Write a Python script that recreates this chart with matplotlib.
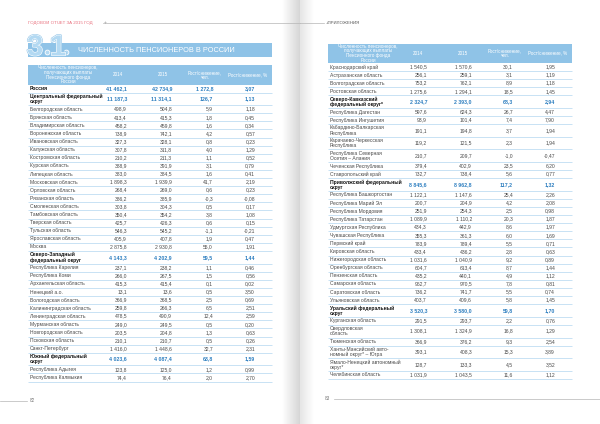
import matplotlib.pyplot as plt
import matplotlib.patheffects as pe
import numpy as np

plt.rcParams['font.family'] = ['Liberation Sans', 'DejaVu Sans']

# ---- data, page 82 ----
names_82 = ['Россия', 'Центральный федеральный\nокруг', 'Белгородская область', 'Брянская область',
            'Владимирская область', 'Воронежская область', 'Ивановская область', 'Калужская область',
            'Костромская область', 'Курская область', 'Липецкая область', 'Московская область',
            'Орловская область', 'Рязанская область', 'Смоленская область', 'Тамбовская область',
            'Тверская область', 'Тульская область', 'Ярославская область', 'Москва',
            'Северо-Западный\nфедеральный округ', 'Республика Карелия', 'Республика Коми',
            'Архангельская область', 'Ненецкий а.о.', 'Вологодская область', 'Калининградская область',
            'Ленинградская область', 'Мурманская область', 'Новгородская область', 'Псковская область',
            'Санкт-Петербург', 'Южный федеральный\nокруг', 'Республика Адыгея', 'Республика Калмыкия']
v2014_82 = ['41 462,1', '11 187,3', '498,9', '413,4', '458,2', '738,9', '327,3', '307,8', '210,2',
            '388,9', '383,0', '1 898,3', '268,4', '386,2', '303,8', '350,4', '425,7', '546,3', '405,9',
            '2 875,8', '4 143,3', '237,1', '266,0', '415,3', '13,1', '366,9', '259,8', '478,5', '249,0',
            '203,5', '210,1', '1 416,0', '4 023,6', '123,8', '74,4']
v2015_82 = ['42 734,9', '11 314,1', '504,8', '415,3', '459,8', '742,1', '328,1', '311,8', '211,3',
            '391,9', '384,5', '1 939,9', '269,0', '385,9', '304,3', '354,2', '426,3', '545,2', '407,8',
            '2 930,8', '4 202,9', '238,2', '267,5', '415,4', '13,6', '368,5', '266,3', '490,9', '249,5',
            '204,8', '210,7', '1 448,6', '4 087,4', '125,0', '76,4']
diff_82 = ['1 272,8', '126,7', '5,9', '1,8', '1,6', '4,2', '0,8', '4,0', '1,1', '3,1', '1,6', '41,7',
           '0,6', '-0,3', '0,5', '3,8', '0,6', '-1,1', '1,9', '55,0', '59,5', '1,1', '1,5', '0,1', '0,5',
           '2,5', '6,5', '12,4', '0,5', '1,3', '0,5', '32,7', '63,8', '1,2', '2,0']
pct_82 = ['3,07', '1,13', '1,18', '0,45', '0,34', '0,57', '0,23', '1,29', '0,52', '0,79', '0,41', '2,19',
          '0,23', '-0,08', '0,17', '1,08', '0,15', '-0,21', '0,47', '1,91', '1,44', '0,46', '0,56', '0,02',
          '3,50', '0,69', '2,51', '2,59', '0,20', '0,63', '0,26', '2,31', '1,59', '0,99', '2,70']

# ---- data, page 83 ----
names_83 = ['Краснодарский край', 'Астраханская область', 'Волгоградская область', 'Ростовская область',
            'Северо-Кавказский\nфедеральный округ*', 'Республика Дагестан', 'Республика Ингушетия',
            'Кабардино-Балкарская\nРеспублика', 'Карачаево-Черкесская\nРеспублика',
            'Республика Северная\nОсетия – Алания', 'Чеченская Республика', 'Ставропольский край',
            'Приволжский федеральный\nокруг', 'Республика Башкортостан', 'Республика Марий Эл',
            'Республика Мордовия', 'Республика Татарстан', 'Удмуртская Республика', 'Чувашская Республика',
            'Пермский край', 'Кировская область', 'Нижегородская область', 'Оренбургская область',
            'Пензенская область', 'Самарская область', 'Саратовская область', 'Ульяновская область',
            'Уральский федеральный\nокруг', 'Курганская область', 'Свердловская\nобласть',
            'Тюменская область', 'Ханты-Мансийский авто-\nномный округ* – Югра',
            'Ямало-Ненецкий автономный\nокруг*', 'Челябинская область']
v2014_83 = ['1 540,5', '256,1', '753,2', '1 275,6', '2 324,7', '597,6', '93,9', '191,1', '119,2', '210,7',
            '379,4', '732,7', '8 845,6', '1 122,1', '200,7', '251,9', '1 089,9', '434,3', '355,3', '783,9',
            '433,4', '1 031,6', '604,7', '435,2', '962,7', '736,2', '403,7', '3 520,3', '291,5', '1 308,1',
            '366,9', '393,1', '128,7', '1 031,9']
v2015_83 = ['1 570,6', '259,1', '762,1', '1 294,1', '2 393,0', '624,3', '101,4', '194,8', '121,5', '209,7',
            '402,9', '738,4', '8 962,8', '1 147,6', '204,9', '254,3', '1 110,2', '442,9', '361,3', '789,4',
            '436,2', '1 040,9', '613,4', '440,1', '970,5', '741,7', '409,6', '3 580,0', '293,7', '1 324,9',
            '376,2', '408,3', '133,3', '1 043,5']
diff_83 = ['30,1', '3,1', '8,9', '18,5', '68,3', '26,7', '7,4', '3,7', '2,3', '-1,0', '23,5', '5,6', '117,2',
           '25,4', '4,2', '2,5', '20,3', '8,6', '6,0', '5,5', '2,8', '9,2', '8,7', '4,9', '7,8', '5,5', '5,8',
           '59,8', '2,2', '16,8', '9,3', '15,3', '4,5', '11,6']
pct_83 = ['1,95', '1,19', '1,18', '1,45', '2,94', '4,47', '7,90', '1,94', '1,94', '-0,47', '6,20', '0,77',
          '1,32', '2,26', '2,08', '0,98', '1,87', '1,97', '1,69', '0,71', '0,63', '0,89', '1,44', '1,12',
          '0,81', '0,74', '1,45', '1,70', '0,76', '1,29', '2,54', '3,89', '3,52', '1,12']

head_labels = ['Численность пенсионеров,\nполучающих выплаты\nПенсионного фонда\nРоссии',
               '2014', '2015', 'Рост/снижение,\nчел.', 'Рост/снижение, %']

BLUE = '#8fc3e7'
DARKBLUE = '#2e7fc0'
LINE = '#a9d1ee'
GREY = '#4a4a4a'
FS = 3.6


def is_bold(name):
    return name == 'Россия' or 'федеральн' in name


def draw_table(ax, x0, y0, names, a, b, c, d):
    width = 244
    head_h = 19.5
    ax.add_patch(plt.Rectangle((x0, y0), width, head_h, color=BLUE, lw=0))
    head_x = [x0 + 40, x0 + 90, x0 + 135, x0 + 177, x0 + 220]
    for hx, lab in zip(head_x, head_labels):
        ax.text(hx, y0 + head_h / 2, lab, color='white', fontsize=3.3, ha='center', va='center',
                linespacing=0.95)
    num_x = [x0 + 99, x0 + 144, x0 + 185, x0 + 227]
    y = y0 + head_h
    for i, name in enumerate(names):
        h = 12.6 if '\n' in name else 8.1
        yc = y + h / 2
        bold = is_bold(name)
        ax.text(x0 + 2, yc, name, fontsize=FS, va='center', ha='left', linespacing=1.0,
                color='#111111' if bold else GREY, fontweight='bold' if bold else 'normal')
        for nx, val in zip(num_x, [a[i], b[i], c[i], d[i]]):
            ax.text(nx, yc, val, fontsize=FS + 0.2 if bold else FS, va='center', ha='right',
                    color=DARKBLUE if bold else GREY, fontweight='bold' if bold else 'normal')
        y += h
        ax.plot([x0, x0 + width], [y, y], color=LINE, lw=0.45, solid_capstyle='butt')


fig = plt.figure(figsize=(6, 4.24), dpi=100)
ax = fig.add_axes([0, 0, 1, 1])

# page fold shading
grad_l = np.linspace(1.0, 0.84, 40)[None, :]
ax.imshow(np.repeat(grad_l[..., None], 3, axis=2), extent=(282, 300, 424, 0), aspect='auto', zorder=0)
grad_r = np.linspace(0.9, 1.0, 30)[None, :]
ax.imshow(np.repeat(grad_r[..., None], 3, axis=2), extent=(300, 314, 424, 0), aspect='auto', zorder=0)
ax.set_xlim(0, 600)
ax.set_ylim(424, 0)
ax.axis('off')

# running heads
ax.text(28, 23, 'ГОДОВОЙ ОТЧЕТ ЗА 2015 ГОД', color='#e86f7c', fontsize=3.2, va='center', ha='left')
ax.plot([103, 300], [23, 23], color='#b5b5b5', lw=0.5)
ax.text(105, 23, '+', color='#999999', fontsize=3.5, va='center', ha='center')
ax.plot([300, 324], [23, 23], color='#b5b5b5', lw=0.5)
ax.text(326, 23, '+ПРИЛОЖЕНИЯ', color='#555555', fontsize=3.2, va='center', ha='left')

# section title
ax.add_patch(plt.Rectangle((28, 43), 244, 14, color=BLUE, lw=0))
digit_fx = [pe.Stroke(linewidth=1.6, foreground='#8fc3e7'), pe.Stroke(linewidth=0.8, foreground='white'),
            pe.Normal()]
ax.text(27, 55.5, '3', fontsize=21, color='#b3d9f2', fontweight='bold', va='baseline', ha='left',
        path_effects=digit_fx)
ax.text(58, 55.5, '1', fontsize=21, color='#b3d9f2', fontweight='bold', va='baseline', ha='center',
        path_effects=digit_fx)
for cx in [47.5, 66.5]:
    ax.add_patch(plt.Circle((cx, 52.5), 2.4, facecolor='#b3d9f2', edgecolor='white', lw=0.6))
ax.text(78, 50, 'ЧИСЛЕННОСТЬ ПЕНСИОНЕРОВ В РОССИИ', color='white', fontsize=5.3, va='center', ha='left')

draw_table(ax, 28, 65, names_82, v2014_82, v2015_82, diff_82, pct_82)
draw_table(ax, 328, 43.5, names_83, v2014_83, v2015_83, diff_83, pct_83)

# folios
ax.plot([0, 27], [401, 401], color='#b5b5b5', lw=0.5)
ax.text(30, 401, '82', color='#777777', fontsize=3.3, va='center', ha='left')
ax.plot([334, 600], [399, 399], color='#b5b5b5', lw=0.5)
ax.text(325, 399, '83', color='#777777', fontsize=3.3, va='center', ha='left')

fig.savefig('out.png', dpi=100)
